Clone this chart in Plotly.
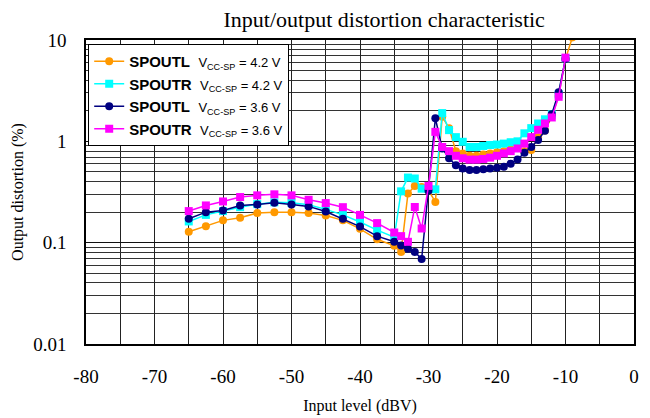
import plotly.graph_objects as go

# input level (dBV)
x_levels = [-65, -62.5, -60, -57.5, -55, -52.5, -50, -47.5, -45, -42.5, -40, -37.5,
            -35, -34, -33, -32, -31, -30, -29, -28, -27, -26, -25, -24, -23, -22,
            -21, -20, -19, -18, -17, -16, -15, -14, -13, -12, -11, -10]
x_levels_l42 = x_levels + [-9]

# output distortion (%)
spoutl_42 = [0.128, 0.145, 0.166, 0.176, 0.196, 0.2, 0.2, 0.196, 0.185, 0.166, 0.137, 0.108,
             0.093, 0.081, 0.305, 0.363, 0.355, 0.328, 0.252, 1.75, 1.35, 0.8, 0.76, 0.72,
             0.72, 0.74, 0.76, 0.78, 0.8, 0.83, 0.86, 0.8, 0.82, 1.1, 1.28, 1.75, 2.8, 6.5, 10.6]
spoutr_42 = [0.162, 0.188, 0.205, 0.224, 0.24, 0.25, 0.248, 0.237, 0.213, 0.188, 0.16, 0.133,
             0.113, 0.321, 0.439, 0.43, 0.341, 0.34, 0.336, 1.9, 1.29, 1.1, 0.99, 0.88,
             0.88, 0.9, 0.92, 0.93, 0.95, 0.98, 1.0, 1.2, 1.35, 1.5, 1.65, 1.85, 2.9, 6.6]
spoutl_36 = [0.172, 0.2, 0.208, 0.233, 0.238, 0.248, 0.238, 0.228, 0.203, 0.172, 0.144, 0.116,
             0.102, 0.094, 0.087, 0.081, 0.069, 0.325, 1.69, 0.85, 0.68, 0.58, 0.54, 0.52,
             0.52, 0.53, 0.54, 0.55, 0.56, 0.6, 0.66, 0.77, 0.88, 1.03, 1.27, 1.85, 3.05, 6.5]
spoutr_36 = [0.205, 0.233, 0.255, 0.282, 0.293, 0.3, 0.293, 0.265, 0.246, 0.224, 0.188, 0.156,
             0.126, 0.116, 0.102, 0.225, 0.138, 0.363, 1.24, 0.88, 0.8, 0.72, 0.68, 0.66,
             0.66, 0.67, 0.69, 0.72, 0.76, 0.8, 0.85, 0.95, 1.1, 1.3, 1.5, 1.72, 2.75, 6.7]

x_ticks = list(range(-80, 1, 10))
x_ticktext = [str(v) for v in x_ticks]
y_ticks = [0.01, 0.1, 1, 10]
y_ticktext = ["0.01", "0.1", "1", "10"]
y_minor = [m * 10 ** e for e in (-2, -1, 0) for m in range(2, 10)]


def label(name, vcc):
    return (f'<b>{name}</b>  '
            f'<span style="font-size:13px">V<sub>CC-SP</sub> = {vcc} V</span>')


series = [
    (x_levels_l42, spoutl_42, "SPOUTL", "4.2", "#FF9900", "circle", 8),
    (x_levels, spoutr_42, "SPOUTR", "4.2", "#00FFFF", "square", 8),
    (x_levels, spoutl_36, "SPOUTL", "3.6", "#000080", "circle", 8),
    (x_levels, spoutr_36, "SPOUTR", "3.6", "#FF00FF", "square", 8),
]

fig = go.Figure()
for xs, ys, name, vcc, color, sym, size in series:
    fig.add_trace(go.Scatter(
        x=xs, y=ys, mode="lines+markers", name=label(name, vcc),
        line=dict(color=color, width=1.5),
        marker=dict(color=color, symbol=sym, size=size),
    ))

serif = "Liberation Serif, Times New Roman, serif"
# page body has an 8px margin, so the figure is a bit smaller than the window
fig.update_layout(
    width=642, height=410,
    margin=dict(l=78, r=16, t=32, b=74),
    paper_bgcolor="white", plot_bgcolor="white",
    title=dict(text="Input/output distortion characteristic", x=0.586, xanchor="center",
               y=0.973, yanchor="middle", font=dict(family=serif, size=22, color="black")),
    showlegend=True,
    legend=dict(x=0.004, y=0.987, xanchor="left", yanchor="top",
                bgcolor="white", bordercolor="black", borderwidth=1,
                font=dict(family="Liberation Sans, Arial, sans-serif", size=15, color="black"),
                tracegroupgap=0, itemwidth=30),
)
fig.update_xaxes(
    range=[-80, 0], tickmode="array", tickvals=x_ticks, ticktext=x_ticktext,
    showgrid=True, gridcolor="#222", gridwidth=1,
    minor=dict(dtick=5, showgrid=True, gridcolor="#222", gridwidth=1),
    showline=True, linecolor="black", linewidth=1.5, mirror=True,
    ticks="", ticklabelstandoff=14, zeroline=False, automargin=False,
    tickfont=dict(family=serif, size=19, color="black"),
    title=dict(text="Input level (dBV)", font=dict(family=serif, size=16, color="black"),
               standoff=14),
)
fig.update_yaxes(
    type="log", range=[-2, 1], tickmode="array", tickvals=y_ticks, ticktext=y_ticktext,
    showgrid=True, gridcolor="#111", gridwidth=1,
    minor=dict(tickvals=y_minor, showgrid=True, gridcolor="#333", gridwidth=1),
    showline=True, linecolor="black", linewidth=1.5, mirror=True,
    ticks="", ticklabelstandoff=14, zeroline=False, automargin=False,
    tickfont=dict(family=serif, size=19, color="black"),
    title=dict(text="Output distortion (%)", font=dict(family=serif, size=16, color="black"),
               standoff=6),
)

fig.write_html("out.html")
